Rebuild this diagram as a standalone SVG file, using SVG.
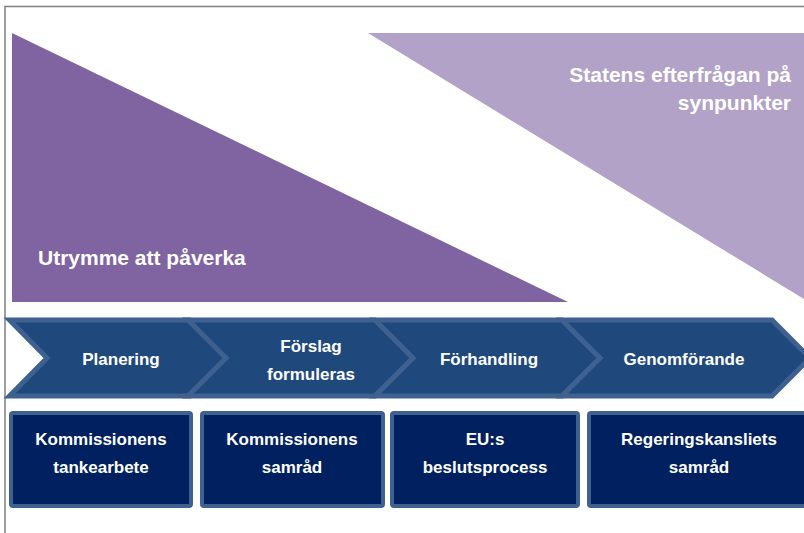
<svg xmlns="http://www.w3.org/2000/svg" width="804" height="533" viewBox="0 0 804 533">
<style>
.frame{stroke:#808080;stroke-width:1.5;fill:none}
.chev{fill:#1F497D;stroke:#3F6190;stroke-width:5;stroke-linejoin:miter}
.box{fill:#002060;stroke:#3F6190;stroke-width:4}
.t{font-family:"Liberation Sans",Arial,sans-serif;font-weight:bold;fill:#FFFFFF;font-size:17px;text-anchor:middle}
.big{font-family:"Liberation Sans",Arial,sans-serif;font-weight:bold;fill:#FFFFFF;font-size:21px}
</style>
<rect x="0" y="0" width="804" height="533" fill="#FFFFFF"/>
<path class="frame" d="M5,533 L5,6.5 L804,6.5"/>
<g id="utrymme">
<polygon points="12,33 568,302 12,302" fill="#8064A2"/>
<text class="big" x="38" y="265">Utrymme att påverka</text>
</g>
<g id="statens">
<polygon points="368,33 804,33 804,299" fill="#B2A2C7"/>
<text class="big" x="791" y="82" text-anchor="end">Statens efterfrågan på</text>
<text class="big" x="791" y="110" text-anchor="end">synpunkter</text>
</g>
<g id="connectors"></g>
<g id="planering">
<path class="chev" d="M9.5,320 L190,320 L228,358 L190,396 L9.5,396 L47,358 Z"/>
<text class="t" x="121" y="365">Planering</text>
</g>
<g id="forslag">
<path class="chev" d="M188,320 L375,320 L413,358 L375,396 L188,396 L226,358 Z"/>
<text class="t" x="311" y="352">Förslag</text>
<text class="t" x="311" y="380">formuleras</text>
</g>
<g id="forhandling">
<path class="chev" d="M375,320 L562,320 L600,358 L562,396 L375,396 L413,358 Z"/>
<text class="t" x="489" y="365">Förhandling</text>
</g>
<g id="genomforande">
<path class="chev" d="M562,320 L772,320 L810,358 L772,396 L562,396 L600,358 Z"/>
<text class="t" x="684" y="365">Genomförande</text>
</g>
<g id="box1">
<rect class="box" x="11" y="413" width="180" height="93" rx="2"/>
<text class="t" x="101" y="445">Kommissionens</text>
<text class="t" x="101" y="473">tankearbete</text>
</g>
<g id="box2">
<rect class="box" x="202" y="413" width="181" height="93" rx="2"/>
<text class="t" x="292" y="445">Kommissionens</text>
<text class="t" x="292" y="473">samråd</text>
</g>
<g id="box3">
<rect class="box" x="392" y="413" width="186" height="93" rx="2"/>
<text class="t" x="485" y="445">EU:s</text>
<text class="t" x="485" y="473">beslutsprocess</text>
</g>
<g id="box4">
<rect class="box" x="589" y="413" width="222" height="93" rx="2"/>
<text class="t" x="699" y="445">Regeringskansliets</text>
<text class="t" x="699" y="473">samråd</text>
</g>
</svg>
